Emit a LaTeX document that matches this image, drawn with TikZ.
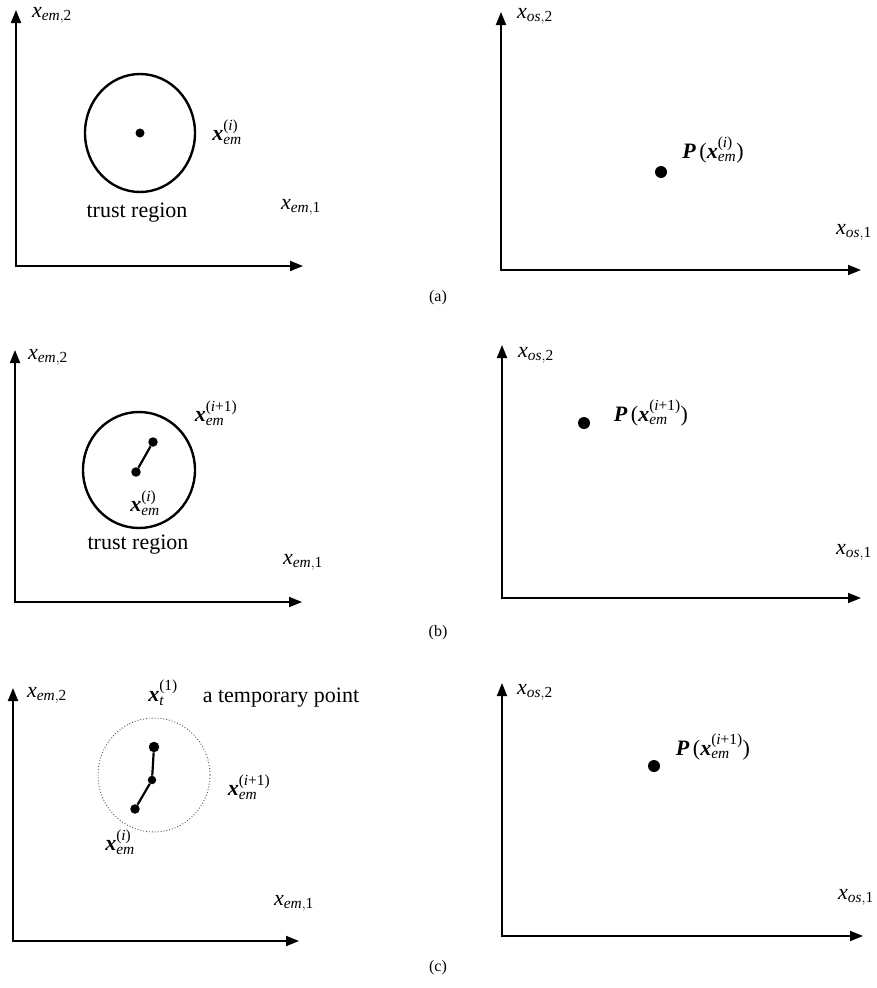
\documentclass[tikz,border=0pt]{standalone}
\usepackage{amsmath}
\usepackage{fontspec}
\setmainfont{Liberation Serif}
\usetikzlibrary{arrows.meta}
\newcommand\xbi{\textbf{\textit{x}}}
\newcommand\axl[2]{$\textit{x}_{\textit{#1},\text{#2}}$}
\newcommand\xemlab[1]{$\xbi_{\textit{em}}^{\text{(#1)}}$}
\newcommand\plab[1]{$\textbf{\textit{P}}\,\text{(}\xbi_{\textit{em}}^{\text{(#1)}}\text{)}$}
\begin{document}
\begin{tikzpicture}[x=1pt,y=-1pt,
  axes/.style={line width=1.9pt,line join=miter,{Triangle[length=13pt,width=10pt]}-{Triangle[length=13pt,width=10pt]}},
  lbl/.style={font=\fontsize{22}{26}\selectfont,inner sep=0pt},
  captxt/.style={font=\fontsize{16}{19}\selectfont,inner sep=0pt},
  dotpt/.style={circle,fill=black,inner sep=0pt,minimum size=#1},
  dotpt/.default=9.5pt,
  trust/.style={line width=2.4pt},
  tempc/.style={line width=0.9pt,dotted,black!70},
  seg/.style={line width=2.2pt}]
\useasboundingbox (0,0) rectangle (877,988);
% ---------- (a) left
\coordinate (a1o) at (16,266);
\coordinate (a1x) at (303,266);
\coordinate (a1y) at (16,10);
\draw[axes] (a1y) -- (a1o) -- (a1x);
\node[lbl] (a1ly) at (52,15) {\axl{em}{2}};
\node[lbl] (a1lx) at (301,207) {\axl{em}{1}};
\draw[trust] (140,133) ellipse [x radius=55,y radius=59];
\node[dotpt=9pt] (a1p) at (140,133) {};
\node[lbl] (a1lp) at (227,132) {\xemlab{\textit{i}}};
\node[lbl] (a1t) at (137,213) {trust region};
% ---------- (a) right
\coordinate (a2o) at (501,270);
\coordinate (a2x) at (861,270);
\coordinate (a2y) at (501,12);
\draw[axes] (a2y) -- (a2o) -- (a2x);
\node[lbl] (a2ly) at (535,16) {\axl{os}{2}};
\node[lbl] (a2lx) at (854,232) {\axl{os}{1}};
\node[dotpt=12pt] (a2p) at (661,172) {};
\node[lbl] (a2lp) at (713,150) {\plab{\textit{i}}};
\node[captxt] (capa) at (438,298) {(a)};
% ---------- (b) left
\coordinate (b1o) at (15,602);
\coordinate (b1x) at (302,602);
\coordinate (b1y) at (15,350);
\draw[axes] (b1y) -- (b1o) -- (b1x);
\node[lbl] (b1ly) at (48,357) {\axl{em}{2}};
\node[lbl] (b1lx) at (303,562) {\axl{em}{1}};
\draw[trust] (139,470) ellipse [x radius=56,y radius=58];
\node[dotpt] (b1p) at (136,472) {};
\node[dotpt] (b1q) at (153,442) {};
\draw[seg] (b1p) -- (b1q);
\node[lbl] (b1lq) at (216,413) {\xemlab{\textit{i}+1}};
\node[lbl] (b1lp) at (145,503) {\xemlab{\textit{i}}};
\node[lbl] (b1t) at (138,545) {trust region};
% ---------- (b) right
\coordinate (b2o) at (502,598);
\coordinate (b2x) at (861,598);
\coordinate (b2y) at (502,345);
\draw[axes] (b2y) -- (b2o) -- (b2x);
\node[lbl] (b2ly) at (536,355) {\axl{os}{2}};
\node[lbl] (b2lx) at (854,552) {\axl{os}{1}};
\node[dotpt=12pt] (b2p) at (584,423) {};
\node[lbl] (b2lp) at (651,413) {\plab{\textit{i}+1}};
\node[captxt] (capb) at (438,633) {(b)};
% ---------- (c) left
\coordinate (c1o) at (13,941);
\coordinate (c1x) at (299,941);
\coordinate (c1y) at (13,688);
\draw[axes] (c1y) -- (c1o) -- (c1x);
\node[lbl] (c1ly) at (47,695) {\axl{em}{2}};
\node[lbl] (c1lx) at (294,903) {\axl{em}{1}};
\node[lbl] (c1lt) at (163,693) {$\xbi_{\textit{t}}^{\text{(1)}}$};
\node[lbl] (c1tt) at (281,698) {a temporary point};
\draw[tempc] (154,775) ellipse [x radius=56,y radius=57];
\node[dotpt=10.5pt] (c1t) at (154,747) {};
\node[dotpt=8.5pt] (c1q) at (152,780) {};
\node[dotpt] (c1p) at (135,809) {};
\draw[seg] (c1t) -- (c1q) -- (c1p);
\node[lbl] (c1lq) at (249,787) {\xemlab{\textit{i}+1}};
\node[lbl] (c1lp) at (120,842) {\xemlab{\textit{i}}};
% ---------- (c) right
\coordinate (c2o) at (502,936);
\coordinate (c2x) at (863,936);
\coordinate (c2y) at (502,683);
\draw[axes] (c2y) -- (c2o) -- (c2x);
\node[lbl] (c2ly) at (535,692) {\axl{os}{2}};
\node[lbl] (c2lx) at (856,897) {\axl{os}{1}};
\node[dotpt=12pt] (c2p) at (654,766) {};
\node[lbl] (c2lp) at (713,747) {\plab{\textit{i}+1}};
\node[captxt] (capc) at (438,968) {(c)};
\end{tikzpicture}
\end{document}
